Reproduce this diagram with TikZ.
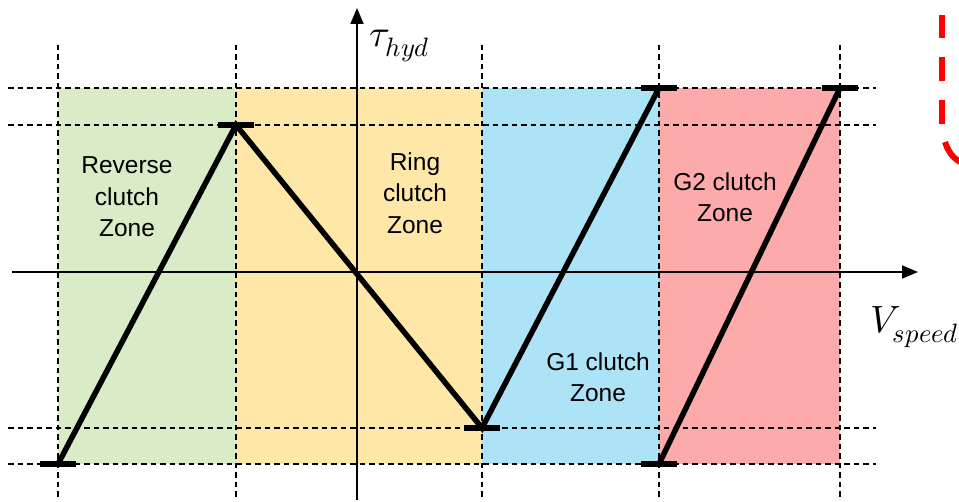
\documentclass[tikz,border=0pt]{standalone}
\usepackage{unicode-math}
\setmainfont{Liberation Sans}
\setmathfont{Latin Modern Math}
\usetikzlibrary{arrows.meta}
\begin{document}
\begin{tikzpicture}[x=1pt,y=-1pt,
  grid/.style={black,line width=1.3pt,dash pattern=on 5.5pt off 4pt},
  zig/.style={black,line width=5.5pt,line cap=butt},
  bar/.style={black,line width=6pt},
  lbl/.style={font=\fontsize{24.5}{31.5}\selectfont,align=center},
  mlbl/.style={font=\fontsize{38}{38}\selectfont,inner sep=0pt},
  ax/.style={black,line width=1.8pt,-{Triangle[length=16pt,width=13pt]}}]
\useasboundingbox (0,0) rectangle (959,502);
% zones
\fill[fill={rgb,255:red,217;green,236;blue,199}] (58,88) rectangle (236,464);
\fill[fill={rgb,255:red,254;green,231;blue,167}] (236,88) rectangle (482,464);
\fill[fill={rgb,255:red,172;green,227;blue,247}] (482,88) rectangle (659,464);
\fill[fill={rgb,255:red,253;green,170;blue,170}] (659,88) rectangle (840,464);
% dashed grid
\foreach \x in {58,236,482,659,840} \draw[grid] (\x,45) -- (\x,500);
\foreach \y in {88,125,428,464} \draw[grid] (8,\y) -- (876,\y);
% axes
\coordinate (yb) at (357,500); \coordinate (yt) at (357,8);
\coordinate (xl) at (12,272); \coordinate (xr) at (918,272);
\draw[ax] (yb) -- (yt);
\draw[ax] (xl) -- (xr);
\node[mlbl,anchor=west] (tau) at (369,46) {$\tau_{hyd}$};
\node[mlbl,anchor=east] (vs) at (959,327) {$V_{speed}$};
% vertices
\coordinate (a) at (58,464);
\coordinate (b) at (236,125);
\coordinate (c) at (482,428);
\coordinate (d) at (659,88);
\coordinate (e) at (659,464);
\coordinate (f) at (840,88);
\draw[zig] (a) -- (b) -- (c) -- (d);
\draw[zig] (e) -- (f);
\foreach \p in {a,b,c,d,e,f} \draw[bar] ([xshift=-18pt]\p) -- ([xshift=18pt]\p);
% labels
\node[lbl] (z1) at (127,197) {Reverse\\clutch\\Zone};
\node[lbl] (z2) at (415,193) {Ring\\clutch\\Zone};
\node[lbl] (z3) at (598,377) {G1 clutch\\Zone};
\node[lbl] (z4) at (725,197) {G2 clutch\\Zone};
% red dashed
\draw[red,line width=6pt] (942,15) -- (942,38) (942,57) -- (942,81) (942,100) -- (942,124);
\draw[red,line width=6pt] (945,142) .. controls (948,151) and (952,157) .. (960,162);
\end{tikzpicture}
\end{document}
